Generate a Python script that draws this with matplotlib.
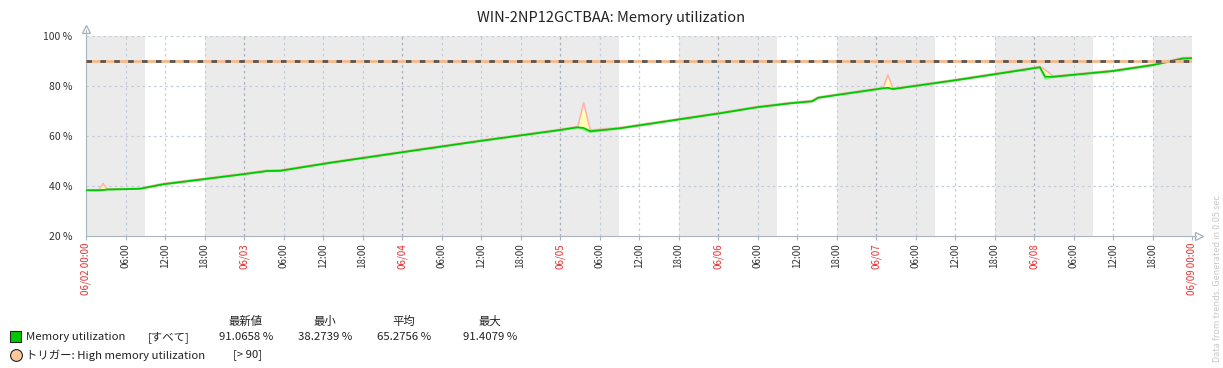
import numpy as np
import matplotlib.pyplot as plt
from matplotlib.lines import Line2D

plt.rcParams['font.family'] = ['Noto Sans CJK JP', 'DejaVu Sans']

# 時刻は 06/02 00:00 からの経過時間 (h)
hours = [0, 2.0, 2.6, 3.2, 6.9, 8.2, 11.7, 17.8, 23.8, 27.5, 29.5, 37.1, 48.0, 59.8,
         72.0, 74.7, 75.6, 76.6, 81.1, 96.3, 101.9, 107.0, 110.3, 111.2, 114.0,
         121.1, 121.8, 122.6, 132.3, 144.9, 145.7, 146.9, 156.0, 162.1, 166.6, 168.0]
avg_vals = [38.3, 38.3, 38.4, 38.6, 38.8, 38.9, 40.7, 42.7, 44.7, 46.0, 46.1, 49.3, 53.5, 58.0,
            62.4, 63.5, 63.2, 61.9, 63.1, 69.1, 71.5, 73.1, 73.9, 75.3, 76.4,
            79.1, 79.3, 78.8, 82.4, 87.5, 83.7, 83.7, 86.0, 88.4, 91.0, 91.1]
max_vals = [38.4, 38.5, 41.0, 38.8, 39.0, 39.1, 41.0, 43.0, 45.0, 46.3, 46.4, 49.6, 53.8, 58.3,
            62.7, 63.8, 73.3, 62.4, 63.4, 69.4, 71.8, 73.4, 74.2, 75.6, 76.7,
            79.4, 84.4, 79.1, 82.7, 87.8, 86.5, 84.0, 86.3, 88.7, 91.4, 91.4]
min_vals = [38.27, 38.2, 38.3, 38.5, 38.7, 38.8, 40.5, 42.5, 44.5, 45.8, 45.9, 49.1, 53.3, 57.8,
            62.2, 63.3, 62.5, 61.5, 62.9, 68.9, 71.3, 72.9, 73.7, 75.1, 76.2,
            78.9, 79.0, 78.6, 82.2, 87.3, 82.8, 83.5, 85.8, 88.2, 90.8, 90.9]

trigger_level = 90
# 非稼働時間帯 (開始h, 終了h)
off_hours = [(0, 9), (18, 81), (90, 105), (114, 129), (138, 153), (162, 168)]

day_labels = ['06/02 00:00', '06/03', '06/04', '06/05', '06/06', '06/07', '06/08', '06/09 00:00']
hour_labels = ['06:00', '12:00', '18:00']
y_ticks = [20, 40, 60, 80, 100]

stats_header = ['最新値', '最小', '平均', '最大']
stats_values = ['91.0658 %', '38.2739 %', '65.2756 %', '91.4079 %']

fig = plt.figure(figsize=(12.23, 3.68), dpi=100)
ax = fig.add_axes([86 / 1223, 1 - 236 / 368, (1192 - 86) / 1223, 200 / 368])
ax.set_xlim(0, 168)
ax.set_ylim(20, 100)

for s, e in off_hours:
    ax.axvspan(s, e, color='#ebebeb', lw=0, zorder=0)

for y in [40, 60, 80, 100]:
    ax.axhline(y, color='#c5ced8', lw=0.9, ls=(0, (2, 2.5)), zorder=1)
for h in range(6, 168, 6):
    c = '#a4b0bc' if h % 24 == 0 else '#c5ced8'
    ax.axvline(h, color=c, lw=0.9, ls=(0, (2, 2.5)), zorder=1)

ax.fill_between(hours, min_vals, max_vals, color='#ffffb4', lw=0, zorder=2)
ax.plot(hours, max_vals, color='#ffb4b4', lw=1.2, zorder=3)
ax.plot(hours, min_vals, color='#8cf08c', lw=1.2, zorder=3)
ax.plot(hours, avg_vals, color='#00c800', lw=1.3, zorder=4)

ax.axhline(trigger_level, color='#f7b88a', lw=2, zorder=5)
ax.axhline(trigger_level, color='#555555', lw=2, ls=(0, (2, 3)), zorder=6)

for sp in ['top', 'right']:
    ax.spines[sp].set_visible(False)
for sp in ['left', 'bottom']:
    ax.spines[sp].set_color('#aab4be')
ax.spines['left'].set_bounds(20, 102.5)
ax.spines['bottom'].set_bounds(0, 168.6)
ax.plot([0], [103], marker='^', ms=6, mfc='white', mec='#aab4be', clip_on=False)
ax.plot([169.0], [20], marker='>', ms=6, mfc='white', mec='#aab4be', clip_on=False)

ax.set_yticks(y_ticks)
ax.set_yticklabels([f'{v} %' for v in y_ticks], fontsize=7.5, color='#333333')
ax.tick_params(axis='y', length=0, pad=10)

xt = list(range(0, 169, 6))
xl = []
for h in xt:
    if h % 24 == 0:
        xl.append(day_labels[h // 24])
    else:
        xl.append(hour_labels[(h % 24) // 6 - 1])
ax.set_xticks(xt)
ax.set_xticklabels(xl, rotation=90, fontsize=7, va='top')
ax.tick_params(axis='x', length=3, color='#aab4be', pad=2)
for h, lab in zip(xt, ax.get_xticklabels()):
    lab.set_color('#e83030' if h % 24 == 0 else '#333333')

fig.text(0.5, 1 - 18 / 368, 'WIN-2NP12GCTBAA: Memory utilization', ha='center', va='center',
         fontsize=10.5, color='#222222')

fig.text(1217 / 1223, 1 - 362 / 368, 'Data from trends. Generated in 0.05 sec.', rotation=90,
         ha='center', va='bottom', fontsize=6.5, color='#c8c8c8')

# 凡例
fs = 8.2
y1 = 1 - 337 / 368
y0 = 1 - 321 / 368
y2 = 1 - 355 / 368
fig.patches.append(plt.Rectangle((10 / 1223, 1 - 342 / 368), 11 / 1223, 11 / 368,
                                 transform=fig.transFigure, fc='#00c800', ec='#222222', lw=0.8))
fig.text(26 / 1223, y1, 'Memory utilization', va='center', fontsize=fs, color='#222222')
fig.text(148 / 1223, y1, '[すべて]', va='center', fontsize=fs, color='#222222')
cols = [246, 325, 404, 490]
for cx, hd, val in zip(cols, stats_header, stats_values):
    fig.text(cx / 1223, y0, hd, ha='center', va='center', fontsize=fs, color='#222222')
    fig.text(cx / 1223, y1, val, ha='center', va='center', fontsize=fs, color='#222222')
fig.add_artist(Line2D([15.5 / 1223], [y2], marker='o', ms=8.5, mfc='#ffc89a', mec='#222222',
                      mew=0.8, transform=fig.transFigure))
fig.text(26 / 1223, y2, 'トリガー: High memory utilization', va='center', fontsize=fs, color='#222222')
fig.text(233 / 1223, y2, '[> 90]', va='center', fontsize=fs, color='#222222')

fig.savefig('out.png', dpi=100)
